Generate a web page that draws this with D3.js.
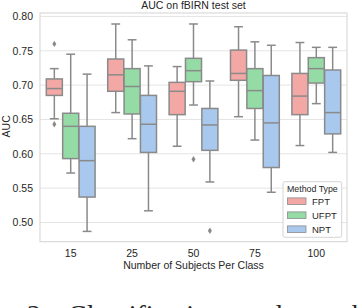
<html lang="en">
<head>
  <meta charset="UTF-8">
  <title>AUC on fBIRN test set</title>
  <style>
    body { margin: 0; background: #fff; }
    svg text { font-family: "Liberation Sans", Arial, sans-serif; fill: #262626; }
  </style>
</head>
<body>
  <div class="svg-target"></div>
  <script src="https://d3js.org/d3.v7.min.js"></script>
  <script>
    const groups = ["15", "25", "50", "75", "100"];
    const methods = ["FPT", "UFPT", "NPT"];
    const colors = ["#f3a8a5", "#95dba5", "#a8c8ee"];
    const yTicks = [0.50, 0.55, 0.60, 0.65, 0.70, 0.75, 0.80];

    // [whisker low, q1, median, q3, whisker high] per group
    const fptStats = [
      [0.651, 0.685, 0.695, 0.709, 0.724],
      [0.660, 0.691, 0.715, 0.738, 0.789],
      [0.611, 0.657, 0.691, 0.704, 0.727],
      [0.654, 0.707, 0.717, 0.751, 0.785],
      [0.612, 0.657, 0.684, 0.717, 0.762]
    ];
    const ufptStats = [
      [0.572, 0.593, 0.640, 0.659, 0.745],
      [0.622, 0.658, 0.698, 0.724, 0.766],
      [0.671, 0.705, 0.721, 0.739, 0.789],
      [0.620, 0.666, 0.692, 0.724, 0.763],
      [0.673, 0.703, 0.724, 0.740, 0.755]
    ];
    const nptStats = [
      [0.487, 0.537, 0.590, 0.640, 0.716],
      [0.517, 0.602, 0.643, 0.685, 0.728],
      [0.559, 0.605, 0.642, 0.666, 0.706],
      [0.544, 0.580, 0.645, 0.714, 0.758],
      [0.602, 0.629, 0.660, 0.722, 0.755]
    ];
    const outlierGroup = ["15", "15", "50", "50"];
    const outlierMethod = ["FPT", "FPT", "UFPT", "NPT"];
    const outlierValue = [0.760, 0.643, 0.592, 0.488];

    const w = 362, h = 308;
    const margin = { top: 13, right: 15, bottom: 66.3, left: 40 };

    const svg = d3.select("div.svg-target")
      .append("svg")
      .attr("width", w)
      .attr("height", h);

    const xScale = d3.scaleBand()
      .domain(groups)
      .range([margin.left, w - margin.right]);
    const hueScale = d3.scaleBand()
      .domain(methods)
      .range([xScale.bandwidth() * 0.1, xScale.bandwidth() * 0.9]);
    const yScale = d3.scaleLinear()
      .domain([0.472, 0.805])
      .range([h - margin.bottom, margin.top]);

    // grid
    svg.append("g")
      .selectAll("line")
      .data(yTicks)
      .enter()
      .append("line")
      .attr("x1", margin.left)
      .attr("x2", w - margin.right)
      .attr("y1", (d) => yScale(d))
      .attr("y2", (d) => yScale(d))
      .attr("stroke", "#e4e4e4")
      .attr("stroke-width", 1);

    // frame
    svg.append("rect")
      .attr("x", margin.left)
      .attr("y", margin.top)
      .attr("width", w - margin.left - margin.right)
      .attr("height", h - margin.top - margin.bottom)
      .attr("fill", "none")
      .attr("stroke", "#dadada")
      .attr("stroke-width", 1.2);

    // y axis
    const yAxis = d3.axisLeft(yScale)
      .tickValues(yTicks)
      .tickFormat(d3.format(".2f"))
      .tickSize(0)
      .tickPadding(7);
    const yg = svg.append("g")
      .attr("transform", "translate(" + margin.left + ",0)")
      .call(yAxis);
    yg.select(".domain").remove();
    yg.selectAll("text").style("font-size", "10.5px").style("font-family", "Liberation Sans, Arial, sans-serif").attr("fill", "#262626");

    // x axis
    const xAxis = d3.axisBottom(xScale).tickSize(0).tickPadding(8);
    const xg = svg.append("g")
      .attr("transform", "translate(0," + (h - margin.bottom) + ")")
      .call(xAxis);
    xg.select(".domain").remove();
    xg.selectAll("text").style("font-size", "10.5px").style("font-family", "Liberation Sans, Arial, sans-serif").attr("fill", "#262626");

    // titles
    svg.append("text")
      .attr("text-anchor", "middle")
      .attr("x", (margin.left + w - margin.right) / 2)
      .attr("y", 9)
      .style("font-size", "10.5px")
      .text("AUC on fBIRN test set");
    svg.append("text")
      .attr("text-anchor", "middle")
      .attr("x", (margin.left + w - margin.right) / 2)
      .attr("y", 269)
      .style("font-size", "10.5px")
      .text("Number of Subjects Per Class");
    svg.append("text")
      .attr("text-anchor", "middle")
      .attr("transform", "translate(9.5," + yScale(0.64) + ") rotate(-90)")
      .style("font-size", "10.5px")
      .text("AUC");

    // boxes
    const boxData = [];
    [fptStats, ufptStats, nptStats].forEach((stats, mi) => {
      stats.forEach((s, gi) => {
        boxData.push({ group: groups[gi], method: methods[mi], color: colors[mi],
          lo: s[0], q1: s[1], med: s[2], q3: s[3], hi: s[4] });
      });
    });

    const boxW = hueScale.bandwidth() * 0.98;
    const capW = boxW * 0.55;
    const lineColor = "#8a8a8a";
    const cx = (g, m) => xScale(g) + hueScale(m) + hueScale.bandwidth() / 2;

    const boxes = svg.append("g")
      .selectAll("g")
      .data(boxData)
      .enter()
      .append("g");

    boxes.append("line")
      .attr("x1", (d) => cx(d.group, d.method))
      .attr("x2", (d) => cx(d.group, d.method))
      .attr("y1", (d) => yScale(d.hi))
      .attr("y2", (d) => yScale(d.lo))
      .attr("stroke", lineColor)
      .attr("stroke-width", 1.5);
    boxes.append("line")
      .attr("x1", (d) => cx(d.group, d.method) - capW / 2)
      .attr("x2", (d) => cx(d.group, d.method) + capW / 2)
      .attr("y1", (d) => yScale(d.hi))
      .attr("y2", (d) => yScale(d.hi))
      .attr("stroke", lineColor)
      .attr("stroke-width", 1.5);
    boxes.append("line")
      .attr("x1", (d) => cx(d.group, d.method) - capW / 2)
      .attr("x2", (d) => cx(d.group, d.method) + capW / 2)
      .attr("y1", (d) => yScale(d.lo))
      .attr("y2", (d) => yScale(d.lo))
      .attr("stroke", lineColor)
      .attr("stroke-width", 1.5);
    boxes.append("rect")
      .attr("x", (d) => cx(d.group, d.method) - boxW / 2)
      .attr("width", boxW)
      .attr("y", (d) => yScale(d.q3))
      .attr("height", (d) => yScale(d.q1) - yScale(d.q3))
      .attr("fill", (d) => d.color)
      .attr("stroke", lineColor)
      .attr("stroke-width", 1.5);
    boxes.append("line")
      .attr("x1", (d) => cx(d.group, d.method) - boxW / 2)
      .attr("x2", (d) => cx(d.group, d.method) + boxW / 2)
      .attr("y1", (d) => yScale(d.med))
      .attr("y2", (d) => yScale(d.med))
      .attr("stroke", lineColor)
      .attr("stroke-width", 1.5);

    // outliers
    svg.append("g")
      .selectAll("path")
      .data(outlierValue)
      .enter()
      .append("path")
      .attr("d", "M0,-3.2L2,0L0,3.2L-2,0Z")
      .attr("transform", (d, i) => "translate(" + cx(outlierGroup[i], outlierMethod[i]) + "," + yScale(d) + ")")
      .attr("fill", lineColor);

    // legend
    const lg = svg.append("g").attr("transform", "translate(283,181.7)");
    lg.append("rect")
      .attr("width", 58.7)
      .attr("height", 55.6)
      .attr("rx", 2)
      .attr("fill", "#fff")
      .attr("fill-opacity", 0.85)
      .attr("stroke", "#d4d4d4")
      .attr("stroke-width", 1);
    lg.append("text")
      .attr("x", 29.4)
      .attr("y", 10.8)
      .attr("text-anchor", "middle")
      .style("font-size", "8.8px")
      .text("Method Type");
    const entries = lg.selectAll("g.entry")
      .data(methods)
      .enter()
      .append("g")
      .attr("class", "entry")
      .attr("transform", (d, i) => "translate(0," + (19.5 + i * 14) + ")");
    entries.append("rect")
      .attr("x", 4.5)
      .attr("y", -3.3)
      .attr("width", 18.5)
      .attr("height", 6.6)
      .attr("fill", (d, i) => colors[i])
      .attr("stroke", lineColor)
      .attr("stroke-width", 0.8);
    entries.append("text")
      .attr("x", 29)
      .attr("y", 3.5)
      .style("font-size", "9.5px")
      .text((d) => d);

    // caption of the page below the figure, cut off by the crop
    const cap = svg.append("text")
      .attr("y", 323.5)
      .style("font-family", "Liberation Serif, Times New Roman, serif")
      .style("font-size", "28px")
      .attr("fill", "#111");
    cap.append("tspan").attr("x", 27).text("2:");
    cap.append("tspan").attr("x", 68).text("Classification results on the");
  </script>
</body>
</html>
